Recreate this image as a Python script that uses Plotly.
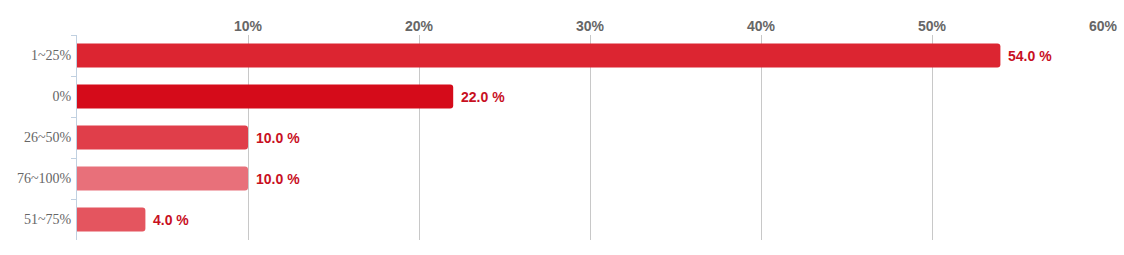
import plotly.graph_objects as go

categories = ["1~25%", "0%", "26~50%", "76~100%", "51~75%"]
values = [54.0, 22.0, 10.0, 10.0, 4.0]
bar_colors = ["#dc2531", "#d50b1a", "#e03e4a", "#e8707a", "#e4555f"]
x_ticks = [10, 20, 30, 40, 50, 60]
x_tick_labels = ["10%", "20%", "30%", "40%", "50%", "60%"]
value_labels = [f"{v:.1f} %" for v in values]

fig = go.Figure()
fig.add_trace(go.Bar(
    y=categories, x=values, orientation="h",
    marker=dict(color=bar_colors, line=dict(width=0)),
    hoverinfo="skip",
))

for c, v, t in zip(categories, values, value_labels):
    fig.add_annotation(
        x=v, y=c, text=t, showarrow=False, xanchor="left", xshift=6,
        font=dict(family="Liberation Sans, Arial", size=14, color="#c8101f", weight="bold"),
    )

fig.update_layout(
    width=1124, height=255,
    margin=dict(l=77, r=21, t=35, b=15, autoexpand=False),
    paper_bgcolor="white", plot_bgcolor="white",
    bargap=0.41,
    barcornerradius=3,
    showlegend=False,
    xaxis=dict(
        side="top", range=[0, 60], tickvals=x_ticks, ticktext=x_tick_labels,
        showgrid=True, gridcolor="#c8c8c8", gridwidth=1,
        zeroline=False, showline=False, ticks="", automargin=False,
        tickfont=dict(family="Liberation Sans, Arial", size=14, color="#666666", weight="bold"),
        fixedrange=True,
    ),
    yaxis=dict(
        autorange="reversed", showgrid=False, zeroline=False, automargin=False,
        showline=True, linecolor="#c0d0e0", linewidth=1,
        ticks="outside", tickson="boundaries", ticklen=5, tickcolor="#c0d0e0",
        ticklabelstandoff=2,
        tickfont=dict(family="Liberation Serif, Times New Roman", size=14, color="#666666"),
        fixedrange=True,
    ),
)

fig.write_html("out.html")
